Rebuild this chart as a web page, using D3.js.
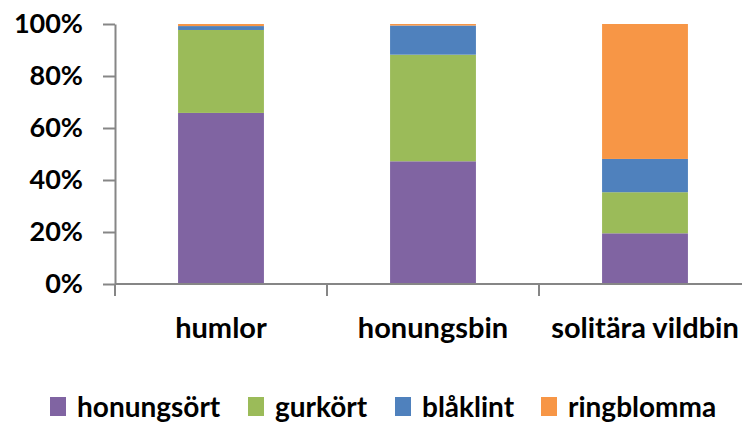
<!DOCTYPE html>
<html>
<head>
<meta charset="utf-8">
<script src="https://cdn.jsdelivr.net/npm/d3@7"></script>
<style>
  body { margin: 0; background: #fff; }
  text { font-family: Lato, "Open Sans", sans-serif; font-weight: bold; fill: #000; }
</style>
</head>
<body>
<script>
// data (percent of visits)
var categories = ["humlor", "honungsbin", "solitära vildbin"];
var seriesNames = ["honungsört", "gurkört", "blåklint", "ringblomma"];
var honungsort = [65.8, 47.2, 19.5];
var gurkort = [31.9, 41.0, 15.8];
var blaklint = [1.5, 11.2, 12.8];
var ringblomma = [0.8, 0.6, 51.9];
var colors = ["#8064a2", "#9bbb59", "#4f81bd", "#f79646"];
var yTicks = [0, 20, 40, 60, 80, 100];

var width = 742, height = 423;

var svg = d3.select("body").append("svg")
	.attr("width", width)
	.attr("height", height)

var rows = categories.map(function(c, i) {
	return {cat: c, "honungsört": honungsort[i], "gurkört": gurkort[i], "blåklint": blaklint[i], "ringblomma": ringblomma[i]}
})

var stack = d3.stack().keys(seriesNames)(rows)

var x = d3.scaleBand().domain(categories).range([115, 751]).paddingInner(0.595).paddingOuter(0.2975)
var xTicksScale = d3.scaleBand().domain(categories).range([115, 751])
var y = d3.scaleLinear().domain([0, 100]).range([284, 24])

// bars
svg.selectAll("g.series")
	.data(stack)
	.enter()
	.append("g")
	.attr("class", "series")
	.attr("fill", function(d, i) {return colors[i]})
	.selectAll("rect")
	.data(function(d) {return d})
	.enter()
	.append("rect")
	.attr("x", function(d) {return x(d.data.cat)})
	.attr("width", x.bandwidth())
	.attr("y", function(d) {return y(d[1])})
	.attr("height", function(d) {return y(d[0]) - y(d[1])})

// y axis
var yAxis = svg.append("g")
	.attr("transform", "translate(115,0)")
	.call(d3.axisLeft(y).tickValues(yTicks).tickFormat(function(d) {return d + "%"}).tickSize(12).tickSizeOuter(0))
yAxis.select(".domain").attr("stroke", "#868686").attr("stroke-width", 2)
yAxis.selectAll(".tick line").attr("stroke", "#868686").attr("stroke-width", 2)
yAxis.selectAll(".tick text").attr("x", -32).style("font-size", "27px").style("font-family", "Lato, sans-serif").style("font-weight", "bold")

// x axis with ticks between categories
var xAxisG = svg.append("g").attr("transform", "translate(0,284)")
xAxisG.append("line")
	.attr("x1", 115).attr("x2", 751)
	.attr("stroke", "#868686").attr("stroke-width", 2)
xAxisG.selectAll("line.tk")
	.data(categories)
	.enter()
	.append("line")
	.attr("class", "tk")
	.attr("x1", function(d) {return xTicksScale(d)})
	.attr("x2", function(d) {return xTicksScale(d)})
	.attr("y1", 0).attr("y2", 12)
	.attr("stroke", "#868686").attr("stroke-width", 2)
xAxisG.selectAll("text")
	.data(categories)
	.enter()
	.append("text")
	.attr("x", function(d) {return x(d) + x.bandwidth() / 2})
	.attr("y", 54)
	.attr("text-anchor", "middle")
	.style("font-size", "29px")
	.text(function(d) {return d})

// legend
var legendX = [50, 248, 395, 541]
var legend = svg.selectAll("g.legend")
	.data(seriesNames)
	.enter()
	.append("g")
	.attr("class", "legend")
	.attr("transform", function(d, i) {return "translate(" + legendX[i] + ",397)"})
legend.append("rect")
	.attr("width", 16).attr("height", 19)
	.attr("fill", function(d, i) {return colors[i]})
legend.append("text")
	.attr("x", 27).attr("y", 20)
	.style("font-size", "28px")
	.text(function(d) {return d})
</script>
</body>
</html>
